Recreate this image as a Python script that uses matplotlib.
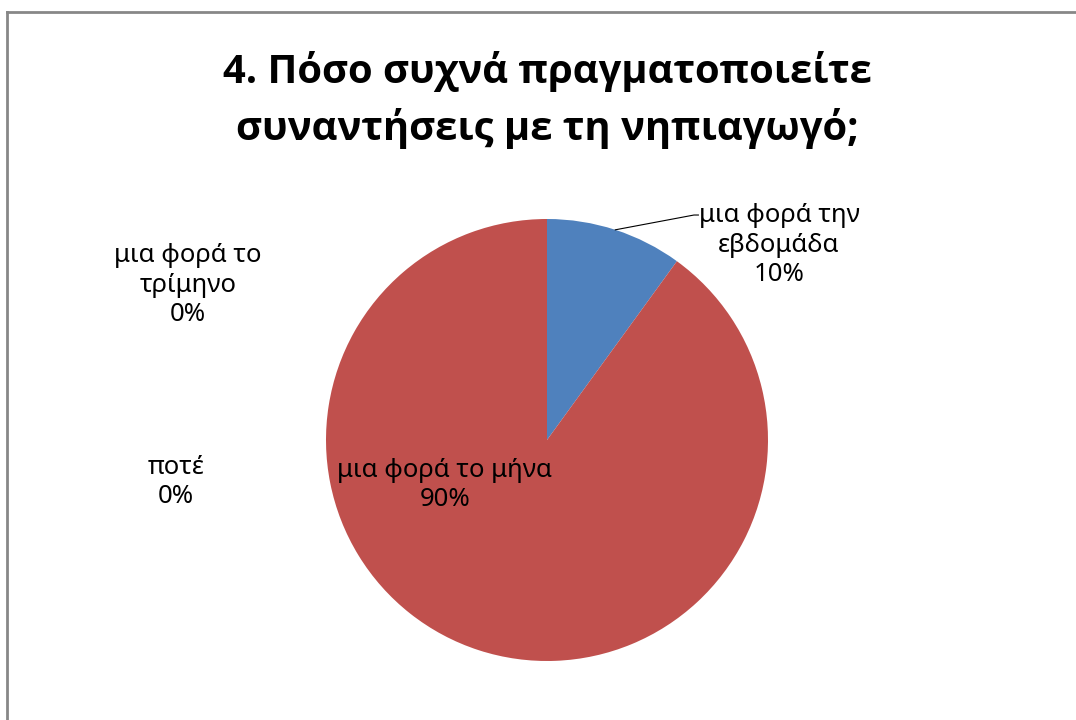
import matplotlib.pyplot as plt
from matplotlib.lines import Line2D
import numpy as np

plt.rcParams['font.family'] = ['Noto Sans', 'DejaVu Sans']

# survey answers and their shares (%)
categories = ['μια φορά την\nεβδομάδα', 'μια φορά το μήνα', 'μια φορά το\nτρίμηνο', 'ποτέ']
shares = [10, 90, 0, 0]
colours = ['#4F81BD', '#C0504D', '#9BBB59', '#8064A2']
title = '4. Πόσο συχνά πραγματοποιείτε\nσυναντήσεις με τη νηπιαγωγό;'

W, H = 1076, 720
fig = plt.figure(figsize=(W / 100, H / 100), dpi=100)

# chart frame (only top and left edges are visible)
fig.add_artist(Line2D([7 / W, 1], [1 - 12 / H, 1 - 12 / H], color='#878787', lw=2))
fig.add_artist(Line2D([7 / W, 7 / W], [0, 1 - 12 / H], color='#878787', lw=2))

fig.text(547 / W, 1 - 100 / H, title, ha='center', va='center',
         fontsize=28.8, fontweight='bold', family=['Open Sans', 'DejaVu Sans'],
         linespacing=1.5)

cx, cy, r = 547, 440, 221
ax = fig.add_axes([(cx - r) / W, (H - cy - r) / H, 2 * r / W, 2 * r / H])
wedges, _ = ax.pie(shares, colors=colours, startangle=90, counterclock=False,
                   wedgeprops=dict(linewidth=0))
ax.set_xlim(-1, 1)
ax.set_ylim(-1, 1)
ax.set_aspect('equal')
ax.axis('off')

# label spots in pie units (radius = 1)
label_xy = [(1.05, 0.882), (-0.462, -0.204), (-1.624, 0.701), (-1.679, -0.19)]
for cat, val, (lx, ly) in zip(categories, shares, label_xy):
    ax.text(lx, ly, f'{cat}\n{val}%', ha='center', va='center',
            fontsize=18.5, linespacing=1.25, clip_on=False)

# leader line for the small slice
w0 = wedges[0]
mid = np.deg2rad((w0.theta1 + w0.theta2) / 2)
ax.plot([np.cos(mid), 0.665, 0.685], [np.sin(mid), 1.018, 1.018],
        color='black', lw=0.8, clip_on=False)

fig.savefig('out.png', dpi=100, facecolor='white')
